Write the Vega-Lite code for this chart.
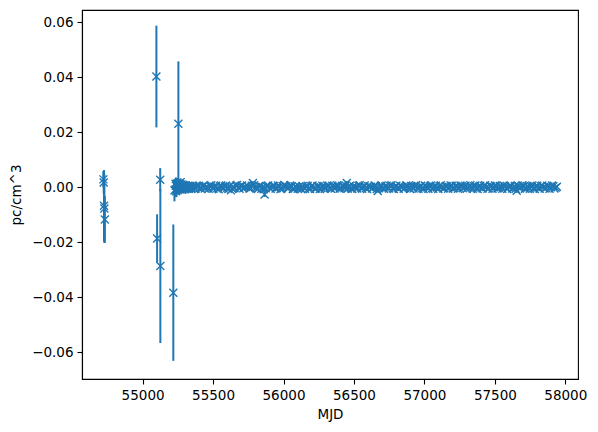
{
  "$schema": "https://vega.github.io/schema/vega-lite/v6.json",
  "autosize": {"type": "none"},
  "padding": {"left": 82, "top": 10, "right": 20, "bottom": 53},
  "width": 496,
  "height": 369,
  "background": "white",
  "config": {
    "view": {"stroke": "black", "strokeWidth": 1.1},
    "axis": {
      "labelFont": "DejaVu Sans", "labelFontSize": 13.5, "labelColor": "black",
      "titleFont": "DejaVu Sans", "titleFontSize": 13.5, "titleColor": "black", "titleFontWeight": "normal",
      "tickColor": "black", "tickSize": 5, "tickWidth": 1.1, "domainColor": "black", "domainWidth": 1.1,
      "grid": false, "labelPadding": 4
    }
  },
  "datasets": {
    "main": [
    {"mjd": 54722, "dm": 0.0028, "err": 0.0030},
    {"mjd": 54724, "dm": 0.0017, "err": 0.0040},
    {"mjd": 54726, "dm": -0.0068, "err": 0.0130},
    {"mjd": 54729, "dm": -0.0078, "err": 0.0125},
    {"mjd": 54732, "dm": -0.0118, "err": 0.0085},
    {"mjd": 55098, "dm": 0.0402, "err": 0.0185},
    {"mjd": 55103, "dm": -0.0187, "err": 0.0088},
    {"mjd": 55125, "dm": 0.0027, "err": 0.0042},
    {"mjd": 55126, "dm": -0.0287, "err": 0.0280},
    {"mjd": 55218, "dm": -0.0384, "err": 0.0248},
    {"mjd": 55226, "dm": -0.0012, "err": 0.0040},
    {"mjd": 55254, "dm": 0.0230, "err": 0.0227},
    {"mjd": 55232, "dm": -0.0010, "err": 0.0025},
    {"mjd": 55234, "dm": 0.0012, "err": 0.0020},
    {"mjd": 55236, "dm": 0.0005, "err": 0.0030},
    {"mjd": 55238, "dm": -0.0015, "err": 0.0022},
    {"mjd": 55240, "dm": -0.0008, "err": 0.0028},
    {"mjd": 55242, "dm": 0.0006, "err": 0.0018},
    {"mjd": 55244, "dm": 0.0012, "err": 0.0020},
    {"mjd": 55247, "dm": -0.0003, "err": 0.0022},
    {"mjd": 55250, "dm": 0.0008, "err": 0.0018},
    {"mjd": 55252, "dm": -0.0011, "err": 0.0016},
    {"mjd": 55258, "dm": 0.0002, "err": 0.0015},
    {"mjd": 55260, "dm": 0.0014, "err": 0.0014},
    {"mjd": 55262, "dm": -0.0006, "err": 0.0020},
    {"mjd": 55264, "dm": 0.0004, "err": 0.0012},
    {"mjd": 55266, "dm": 0.0010, "err": 0.0012},
    {"mjd": 55268, "dm": -0.0009, "err": 0.0013},
    {"mjd": 55270, "dm": 0.0018, "err": 0.0014},
    {"mjd": 55272, "dm": 0.0002, "err": 0.0012},
    {"mjd": 55274, "dm": -0.0004, "err": 0.0016},
    {"mjd": 55276, "dm": 0.0009, "err": 0.0011},
    {"mjd": 55278, "dm": 0.0003, "err": 0.0012},
    {"mjd": 55281, "dm": -0.0010, "err": 0.0010},
    {"mjd": 55283, "dm": -0.0007, "err": 0.0010},
    {"mjd": 55286, "dm": 0.0008, "err": 0.0010},
    {"mjd": 55288, "dm": 0.0006, "err": 0.0011},
    {"mjd": 55291, "dm": -0.0004, "err": 0.0009},
    {"mjd": 55293, "dm": -0.0002, "err": 0.0009},
    {"mjd": 55296, "dm": 0.0007, "err": 0.0009},
    {"mjd": 55298, "dm": 0.0004, "err": 0.0010},
    {"mjd": 55301, "dm": -0.0008, "err": 0.0008},
    {"mjd": 55304, "dm": -0.0005, "err": 0.0008},
    {"mjd": 55307, "dm": 0.0006, "err": 0.0008},
    {"mjd": 55310, "dm": 0.0002, "err": 0.0009},
    {"mjd": 55314, "dm": -0.0006, "err": 0.0008},
    {"mjd": 55317, "dm": -0.0003, "err": 0.0008},
    {"mjd": 55320, "dm": 0.0001, "err": 0.0007},
    {"mjd": 55324, "dm": 0.0005, "err": 0.0007},
    {"mjd": 55328, "dm": -0.0006, "err": 0.0007},
    {"mjd": 55332, "dm": -0.0002, "err": 0.0008},
    {"mjd": 55336, "dm": 0.0004, "err": 0.0007},
    {"mjd": 55340, "dm": 0.0001, "err": 0.0007},
    {"mjd": 55345, "dm": -0.0007, "err": 0.0006},
    {"mjd": 55350, "dm": -0.0004, "err": 0.0006},
    {"mjd": 55356, "dm": 0.0005, "err": 0.0006},
    {"mjd": 55362, "dm": 0.0002, "err": 0.0006},
    {"mjd": 55368, "dm": -0.0002, "err": 0.0006},
    {"mjd": 55375, "dm": -0.0006, "err": 0.0006},
    {"mjd": 55382, "dm": 0.0004, "err": 0.0005},
    {"mjd": 55390, "dm": 0.0000, "err": 0.0005},
    {"mjd": 55399, "dm": 0.0005, "err": 0.0005},
    {"mjd": 55408, "dm": -0.0003, "err": 0.0005},
    {"mjd": 55416, "dm": -0.0007, "err": 0.0005},
    {"mjd": 55425, "dm": 0.0002, "err": 0.0004},
    {"mjd": 55433, "dm": 0.0006, "err": 0.0004},
    {"mjd": 55441, "dm": -0.0005, "err": 0.0005},
    {"mjd": 55450, "dm": -0.0001, "err": 0.0004},
    {"mjd": 55460, "dm": 0.0001, "err": 0.0004},
    {"mjd": 55469, "dm": -0.0006, "err": 0.0004},
    {"mjd": 55478, "dm": 0.0004, "err": 0.0005},
    {"mjd": 55487, "dm": 0.0007, "err": 0.0004},
    {"mjd": 55495, "dm": -0.0002, "err": 0.0004},
    {"mjd": 55503, "dm": -0.0006, "err": 0.0004},
    {"mjd": 55512, "dm": 0.0000, "err": 0.0004},
    {"mjd": 55521, "dm": 0.0005, "err": 0.0004},
    {"mjd": 55530, "dm": -0.0004, "err": 0.0005},
    {"mjd": 55540, "dm": -0.0008, "err": 0.0004},
    {"mjd": 55549, "dm": 0.0003, "err": 0.0004},
    {"mjd": 55557, "dm": 0.0006, "err": 0.0004},
    {"mjd": 55566, "dm": -0.0001, "err": 0.0004},
    {"mjd": 55575, "dm": -0.0005, "err": 0.0004},
    {"mjd": 55584, "dm": 0.0002, "err": 0.0005},
    {"mjd": 55592, "dm": 0.0006, "err": 0.0004},
    {"mjd": 55601, "dm": -0.0003, "err": 0.0004},
    {"mjd": 55609, "dm": -0.0007, "err": 0.0004},
    {"mjd": 55618, "dm": 0.0004, "err": 0.0005},
    {"mjd": 55627, "dm": -0.0012, "err": 0.0006},
    {"mjd": 55636, "dm": -0.0006, "err": 0.0004},
    {"mjd": 55645, "dm": 0.0001, "err": 0.0004},
    {"mjd": 55653, "dm": -0.0004, "err": 0.0004},
    {"mjd": 55662, "dm": 0.0005, "err": 0.0004},
    {"mjd": 55671, "dm": 0.0008, "err": 0.0004},
    {"mjd": 55680, "dm": -0.0002, "err": 0.0004},
    {"mjd": 55688, "dm": -0.0006, "err": 0.0004},
    {"mjd": 55697, "dm": 0.0003, "err": 0.0005},
    {"mjd": 55706, "dm": 0.0006, "err": 0.0004},
    {"mjd": 55715, "dm": -0.0004, "err": 0.0004},
    {"mjd": 55723, "dm": -0.0001, "err": 0.0004},
    {"mjd": 55732, "dm": 0.0000, "err": 0.0004},
    {"mjd": 55741, "dm": 0.0006, "err": 0.0004},
    {"mjd": 55750, "dm": 0.0002, "err": 0.0005},
    {"mjd": 55758, "dm": -0.0005, "err": 0.0004},
    {"mjd": 55766, "dm": -0.0003, "err": 0.0004},
    {"mjd": 55775, "dm": 0.0005, "err": 0.0004},
    {"mjd": 55783, "dm": 0.0015, "err": 0.0006},
    {"mjd": 55791, "dm": 0.0007, "err": 0.0004},
    {"mjd": 55800, "dm": 0.0001, "err": 0.0004},
    {"mjd": 55809, "dm": -0.0003, "err": 0.0004},
    {"mjd": 55818, "dm": -0.0007, "err": 0.0005},
    {"mjd": 55826, "dm": 0.0004, "err": 0.0004},
    {"mjd": 55835, "dm": 0.0002, "err": 0.0004},
    {"mjd": 55843, "dm": -0.0006, "err": 0.0004},
    {"mjd": 55852, "dm": -0.0001, "err": 0.0004},
    {"mjd": 55859, "dm": -0.0008, "err": 0.0005},
    {"mjd": 55866, "dm": -0.0027, "err": 0.0009},
    {"mjd": 55874, "dm": -0.0004, "err": 0.0004},
    {"mjd": 55882, "dm": 0.0003, "err": 0.0004},
    {"mjd": 55891, "dm": 0.0006, "err": 0.0004},
    {"mjd": 55900, "dm": -0.0002, "err": 0.0004},
    {"mjd": 55909, "dm": -0.0006, "err": 0.0004},
    {"mjd": 55918, "dm": 0.0000, "err": 0.0005},
    {"mjd": 55926, "dm": 0.0005, "err": 0.0004},
    {"mjd": 55935, "dm": 0.0004, "err": 0.0004},
    {"mjd": 55944, "dm": -0.0005, "err": 0.0004},
    {"mjd": 55953, "dm": -0.0003, "err": 0.0004},
    {"mjd": 55961, "dm": 0.0006, "err": 0.0004},
    {"mjd": 55970, "dm": 0.0001, "err": 0.0004},
    {"mjd": 55979, "dm": -0.0007, "err": 0.0004},
    {"mjd": 55988, "dm": -0.0004, "err": 0.0005},
    {"mjd": 55996, "dm": 0.0003, "err": 0.0004},
    {"mjd": 56005, "dm": 0.0008, "err": 0.0004},
    {"mjd": 56013, "dm": 0.0004, "err": 0.0004},
    {"mjd": 56022, "dm": 0.0002, "err": 0.0004},
    {"mjd": 56031, "dm": -0.0005, "err": 0.0004},
    {"mjd": 56040, "dm": -0.0001, "err": 0.0004},
    {"mjd": 56048, "dm": 0.0006, "err": 0.0004},
    {"mjd": 56057, "dm": 0.0003, "err": 0.0005},
    {"mjd": 56066, "dm": -0.0007, "err": 0.0004},
    {"mjd": 56075, "dm": -0.0005, "err": 0.0004},
    {"mjd": 56083, "dm": 0.0002, "err": 0.0004},
    {"mjd": 56092, "dm": 0.0000, "err": 0.0004},
    {"mjd": 56101, "dm": -0.0006, "err": 0.0004},
    {"mjd": 56110, "dm": 0.0002, "err": 0.0004},
    {"mjd": 56118, "dm": -0.0003, "err": 0.0004},
    {"mjd": 56127, "dm": -0.0008, "err": 0.0005},
    {"mjd": 56136, "dm": 0.0004, "err": 0.0004},
    {"mjd": 56145, "dm": -0.0002, "err": 0.0004},
    {"mjd": 56153, "dm": -0.0006, "err": 0.0004},
    {"mjd": 56162, "dm": 0.0001, "err": 0.0004},
    {"mjd": 56171, "dm": 0.0005, "err": 0.0004},
    {"mjd": 56180, "dm": -0.0004, "err": 0.0004},
    {"mjd": 56188, "dm": -0.0007, "err": 0.0004},
    {"mjd": 56197, "dm": 0.0003, "err": 0.0005},
    {"mjd": 56206, "dm": 0.0006, "err": 0.0004},
    {"mjd": 56215, "dm": -0.0001, "err": 0.0004},
    {"mjd": 56223, "dm": -0.0006, "err": 0.0004},
    {"mjd": 56232, "dm": -0.0005, "err": 0.0004},
    {"mjd": 56241, "dm": 0.0004, "err": 0.0004},
    {"mjd": 56250, "dm": 0.0002, "err": 0.0004},
    {"mjd": 56258, "dm": -0.0007, "err": 0.0004},
    {"mjd": 56267, "dm": -0.0003, "err": 0.0005},
    {"mjd": 56276, "dm": 0.0005, "err": 0.0004},
    {"mjd": 56285, "dm": 0.0000, "err": 0.0004},
    {"mjd": 56293, "dm": -0.0006, "err": 0.0004},
    {"mjd": 56302, "dm": -0.0002, "err": 0.0004},
    {"mjd": 56311, "dm": 0.0006, "err": 0.0004},
    {"mjd": 56320, "dm": 0.0004, "err": 0.0004},
    {"mjd": 56328, "dm": -0.0003, "err": 0.0004},
    {"mjd": 56337, "dm": -0.0006, "err": 0.0005},
    {"mjd": 56346, "dm": 0.0005, "err": 0.0004},
    {"mjd": 56355, "dm": 0.0001, "err": 0.0004},
    {"mjd": 56363, "dm": -0.0005, "err": 0.0004},
    {"mjd": 56372, "dm": -0.0001, "err": 0.0004},
    {"mjd": 56381, "dm": 0.0007, "err": 0.0004},
    {"mjd": 56390, "dm": 0.0003, "err": 0.0004},
    {"mjd": 56398, "dm": -0.0006, "err": 0.0004},
    {"mjd": 56407, "dm": -0.0003, "err": 0.0005},
    {"mjd": 56416, "dm": 0.0005, "err": 0.0004},
    {"mjd": 56425, "dm": 0.0002, "err": 0.0004},
    {"mjd": 56433, "dm": -0.0004, "err": 0.0004},
    {"mjd": 56441, "dm": 0.0006, "err": 0.0004},
    {"mjd": 56449, "dm": 0.0015, "err": 0.0006},
    {"mjd": 56455, "dm": -0.0006, "err": 0.0004},
    {"mjd": 56462, "dm": 0.0001, "err": 0.0004},
    {"mjd": 56471, "dm": 0.0005, "err": 0.0004},
    {"mjd": 56480, "dm": -0.0004, "err": 0.0004},
    {"mjd": 56488, "dm": -0.0007, "err": 0.0004},
    {"mjd": 56497, "dm": 0.0003, "err": 0.0005},
    {"mjd": 56506, "dm": -0.0002, "err": 0.0004},
    {"mjd": 56515, "dm": 0.0000, "err": 0.0004},
    {"mjd": 56523, "dm": -0.0005, "err": 0.0004},
    {"mjd": 56532, "dm": 0.0005, "err": 0.0004},
    {"mjd": 56541, "dm": 0.0007, "err": 0.0004},
    {"mjd": 56550, "dm": -0.0002, "err": 0.0004},
    {"mjd": 56558, "dm": -0.0006, "err": 0.0004},
    {"mjd": 56567, "dm": 0.0002, "err": 0.0005},
    {"mjd": 56576, "dm": 0.0006, "err": 0.0004},
    {"mjd": 56585, "dm": -0.0003, "err": 0.0004},
    {"mjd": 56593, "dm": -0.0007, "err": 0.0004},
    {"mjd": 56602, "dm": 0.0004, "err": 0.0004},
    {"mjd": 56611, "dm": 0.0000, "err": 0.0004},
    {"mjd": 56620, "dm": 0.0001, "err": 0.0004},
    {"mjd": 56628, "dm": -0.0005, "err": 0.0004},
    {"mjd": 56637, "dm": -0.0002, "err": 0.0005},
    {"mjd": 56646, "dm": 0.0006, "err": 0.0004},
    {"mjd": 56655, "dm": 0.0003, "err": 0.0004},
    {"mjd": 56662, "dm": -0.0007, "err": 0.0004},
    {"mjd": 56669, "dm": -0.0014, "err": 0.0006},
    {"mjd": 56678, "dm": -0.0004, "err": 0.0004},
    {"mjd": 56687, "dm": 0.0000, "err": 0.0004},
    {"mjd": 56696, "dm": 0.0006, "err": 0.0004},
    {"mjd": 56705, "dm": -0.0003, "err": 0.0004},
    {"mjd": 56713, "dm": -0.0006, "err": 0.0004},
    {"mjd": 56722, "dm": 0.0002, "err": 0.0005},
    {"mjd": 56731, "dm": 0.0005, "err": 0.0004},
    {"mjd": 56740, "dm": -0.0001, "err": 0.0004},
    {"mjd": 56748, "dm": -0.0005, "err": 0.0004},
    {"mjd": 56757, "dm": 0.0004, "err": 0.0004},
    {"mjd": 56766, "dm": 0.0007, "err": 0.0004},
    {"mjd": 56775, "dm": -0.0004, "err": 0.0004},
    {"mjd": 56783, "dm": -0.0007, "err": 0.0004},
    {"mjd": 56792, "dm": 0.0001, "err": 0.0005},
    {"mjd": 56801, "dm": 0.0005, "err": 0.0004},
    {"mjd": 56810, "dm": -0.0002, "err": 0.0004},
    {"mjd": 56818, "dm": -0.0006, "err": 0.0004},
    {"mjd": 56827, "dm": 0.0005, "err": 0.0004},
    {"mjd": 56836, "dm": 0.0002, "err": 0.0004},
    {"mjd": 56845, "dm": 0.0000, "err": 0.0004},
    {"mjd": 56853, "dm": -0.0006, "err": 0.0004},
    {"mjd": 56862, "dm": -0.0003, "err": 0.0005},
    {"mjd": 56871, "dm": 0.0006, "err": 0.0004},
    {"mjd": 56880, "dm": 0.0002, "err": 0.0004},
    {"mjd": 56888, "dm": -0.0002, "err": 0.0004},
    {"mjd": 56897, "dm": -0.0007, "err": 0.0004},
    {"mjd": 56906, "dm": 0.0004, "err": 0.0004},
    {"mjd": 56915, "dm": 0.0001, "err": 0.0004},
    {"mjd": 56923, "dm": -0.0005, "err": 0.0004},
    {"mjd": 56932, "dm": 0.0003, "err": 0.0005},
    {"mjd": 56941, "dm": 0.0007, "err": 0.0004},
    {"mjd": 56950, "dm": -0.0002, "err": 0.0004},
    {"mjd": 56958, "dm": -0.0006, "err": 0.0004},
    {"mjd": 56967, "dm": 0.0000, "err": 0.0004},
    {"mjd": 56976, "dm": 0.0005, "err": 0.0004},
    {"mjd": 56985, "dm": -0.0004, "err": 0.0004},
    {"mjd": 56994, "dm": -0.0007, "err": 0.0004},
    {"mjd": 57003, "dm": 0.0006, "err": 0.0005},
    {"mjd": 57011, "dm": 0.0002, "err": 0.0004},
    {"mjd": 57020, "dm": -0.0001, "err": 0.0004},
    {"mjd": 57028, "dm": -0.0006, "err": 0.0004},
    {"mjd": 57037, "dm": 0.0002, "err": 0.0004},
    {"mjd": 57046, "dm": 0.0006, "err": 0.0004},
    {"mjd": 57055, "dm": -0.0003, "err": 0.0004},
    {"mjd": 57063, "dm": -0.0006, "err": 0.0004},
    {"mjd": 57072, "dm": 0.0001, "err": 0.0005},
    {"mjd": 57081, "dm": 0.0005, "err": 0.0004},
    {"mjd": 57090, "dm": -0.0002, "err": 0.0004},
    {"mjd": 57098, "dm": -0.0007, "err": 0.0004},
    {"mjd": 57107, "dm": 0.0003, "err": 0.0004},
    {"mjd": 57116, "dm": 0.0007, "err": 0.0004},
    {"mjd": 57125, "dm": 0.0000, "err": 0.0004},
    {"mjd": 57133, "dm": -0.0005, "err": 0.0004},
    {"mjd": 57142, "dm": -0.0004, "err": 0.0005},
    {"mjd": 57151, "dm": 0.0004, "err": 0.0004},
    {"mjd": 57160, "dm": 0.0002, "err": 0.0004},
    {"mjd": 57168, "dm": -0.0006, "err": 0.0004},
    {"mjd": 57177, "dm": -0.0001, "err": 0.0004},
    {"mjd": 57186, "dm": 0.0006, "err": 0.0004},
    {"mjd": 57195, "dm": 0.0004, "err": 0.0004},
    {"mjd": 57203, "dm": -0.0005, "err": 0.0004},
    {"mjd": 57212, "dm": -0.0003, "err": 0.0005},
    {"mjd": 57221, "dm": 0.0005, "err": 0.0004},
    {"mjd": 57230, "dm": 0.0001, "err": 0.0004},
    {"mjd": 57238, "dm": -0.0006, "err": 0.0004},
    {"mjd": 57247, "dm": -0.0002, "err": 0.0004},
    {"mjd": 57256, "dm": 0.0006, "err": 0.0004},
    {"mjd": 57265, "dm": 0.0003, "err": 0.0004},
    {"mjd": 57273, "dm": -0.0004, "err": 0.0004},
    {"mjd": 57282, "dm": 0.0000, "err": 0.0005},
    {"mjd": 57291, "dm": 0.0005, "err": 0.0004},
    {"mjd": 57300, "dm": -0.0006, "err": 0.0004},
    {"mjd": 57308, "dm": -0.0002, "err": 0.0004},
    {"mjd": 57317, "dm": 0.0002, "err": 0.0004},
    {"mjd": 57326, "dm": 0.0007, "err": 0.0004},
    {"mjd": 57335, "dm": -0.0001, "err": 0.0004},
    {"mjd": 57343, "dm": -0.0006, "err": 0.0004},
    {"mjd": 57352, "dm": 0.0003, "err": 0.0005},
    {"mjd": 57361, "dm": 0.0006, "err": 0.0004},
    {"mjd": 57370, "dm": -0.0003, "err": 0.0004},
    {"mjd": 57378, "dm": -0.0007, "err": 0.0004},
    {"mjd": 57387, "dm": 0.0001, "err": 0.0004},
    {"mjd": 57396, "dm": 0.0005, "err": 0.0004},
    {"mjd": 57405, "dm": -0.0002, "err": 0.0004},
    {"mjd": 57413, "dm": -0.0005, "err": 0.0004},
    {"mjd": 57422, "dm": 0.0004, "err": 0.0005},
    {"mjd": 57431, "dm": 0.0007, "err": 0.0004},
    {"mjd": 57440, "dm": 0.0000, "err": 0.0004},
    {"mjd": 57448, "dm": -0.0006, "err": 0.0004},
    {"mjd": 57457, "dm": -0.0004, "err": 0.0004},
    {"mjd": 57466, "dm": 0.0005, "err": 0.0004},
    {"mjd": 57475, "dm": 0.0002, "err": 0.0004},
    {"mjd": 57483, "dm": -0.0006, "err": 0.0004},
    {"mjd": 57492, "dm": -0.0001, "err": 0.0005},
    {"mjd": 57501, "dm": 0.0006, "err": 0.0004},
    {"mjd": 57510, "dm": 0.0003, "err": 0.0004},
    {"mjd": 57518, "dm": -0.0005, "err": 0.0004},
    {"mjd": 57527, "dm": -0.0003, "err": 0.0004},
    {"mjd": 57536, "dm": 0.0004, "err": 0.0004},
    {"mjd": 57545, "dm": 0.0001, "err": 0.0004},
    {"mjd": 57553, "dm": -0.0006, "err": 0.0004},
    {"mjd": 57562, "dm": 0.0006, "err": 0.0005},
    {"mjd": 57571, "dm": 0.0003, "err": 0.0004},
    {"mjd": 57580, "dm": -0.0002, "err": 0.0004},
    {"mjd": 57588, "dm": -0.0007, "err": 0.0004},
    {"mjd": 57597, "dm": 0.0000, "err": 0.0004},
    {"mjd": 57606, "dm": 0.0005, "err": 0.0004},
    {"mjd": 57615, "dm": 0.0003, "err": 0.0004},
    {"mjd": 57623, "dm": -0.0005, "err": 0.0004},
    {"mjd": 57632, "dm": -0.0004, "err": 0.0005},
    {"mjd": 57641, "dm": 0.0004, "err": 0.0004},
    {"mjd": 57648, "dm": -0.0006, "err": 0.0004},
    {"mjd": 57655, "dm": -0.0013, "err": 0.0006},
    {"mjd": 57662, "dm": 0.0006, "err": 0.0004},
    {"mjd": 57670, "dm": 0.0002, "err": 0.0004},
    {"mjd": 57678, "dm": -0.0005, "err": 0.0004},
    {"mjd": 57687, "dm": -0.0001, "err": 0.0004},
    {"mjd": 57696, "dm": 0.0007, "err": 0.0004},
    {"mjd": 57705, "dm": 0.0003, "err": 0.0005},
    {"mjd": 57713, "dm": -0.0006, "err": 0.0004},
    {"mjd": 57722, "dm": -0.0003, "err": 0.0004},
    {"mjd": 57731, "dm": 0.0004, "err": 0.0004},
    {"mjd": 57740, "dm": 0.0000, "err": 0.0004},
    {"mjd": 57748, "dm": -0.0006, "err": 0.0004},
    {"mjd": 57757, "dm": 0.0002, "err": 0.0004},
    {"mjd": 57766, "dm": 0.0006, "err": 0.0004},
    {"mjd": 57775, "dm": -0.0004, "err": 0.0005},
    {"mjd": 57783, "dm": -0.0007, "err": 0.0004},
    {"mjd": 57792, "dm": 0.0001, "err": 0.0004},
    {"mjd": 57801, "dm": 0.0005, "err": 0.0004},
    {"mjd": 57810, "dm": -0.0002, "err": 0.0004},
    {"mjd": 57818, "dm": -0.0006, "err": 0.0004},
    {"mjd": 57827, "dm": 0.0003, "err": 0.0004},
    {"mjd": 57836, "dm": 0.0006, "err": 0.0004},
    {"mjd": 57845, "dm": 0.0000, "err": 0.0005},
    {"mjd": 57853, "dm": -0.0005, "err": 0.0004},
    {"mjd": 57862, "dm": -0.0003, "err": 0.0004},
    {"mjd": 57871, "dm": 0.0005, "err": 0.0004},
    {"mjd": 57880, "dm": 0.0002, "err": 0.0004},
    {"mjd": 57888, "dm": -0.0006, "err": 0.0004},
    {"mjd": 57897, "dm": -0.0001, "err": 0.0004},
    {"mjd": 57906, "dm": 0.0006, "err": 0.0004},
    {"mjd": 57915, "dm": 0.0003, "err": 0.0005},
    {"mjd": 57923, "dm": -0.0005, "err": 0.0004},
    {"mjd": 57932, "dm": -0.0002, "err": 0.0004},
    {"mjd": 57940, "dm": 0.0001, "err": 0.0004}
    ]
  },
  "data": {"name": "main"},
  "encoding": {
    "x": {
      "field": "mjd", "type": "quantitative",
      "scale": {"domain": [54570, 58090], "nice": false, "zero": false},
      "axis": {"title": "MJD", "values": [55000, 55500, 56000, 56500, 57000, 57500, 58000], "format": "d", "titlePadding": 6}
    },
    "y": {
      "field": "dm", "type": "quantitative",
      "scale": {"domain": [-0.0698, 0.0644], "nice": false, "zero": false},
      "axis": {"title": "pc/cm^3", "values": [-0.06, -0.04, -0.02, 0, 0.02, 0.04, 0.06], "format": ".2f", "titlePadding": 8}
    }
  },
  "layer": [
    {
      "mark": {"type": "errorbar", "color": "#1f77b4", "thickness": 2, "clip": true},
      "encoding": {"yError": {"field": "err"}}
    },
    {
      "mark": {"type": "point", "shape": "M-1,-1L1,1M-1,1L1,-1", "filled": false, "color": "#1f77b4", "size": 64, "strokeWidth": 1.4, "opacity": 1, "clip": true}
    }
  ]
}
